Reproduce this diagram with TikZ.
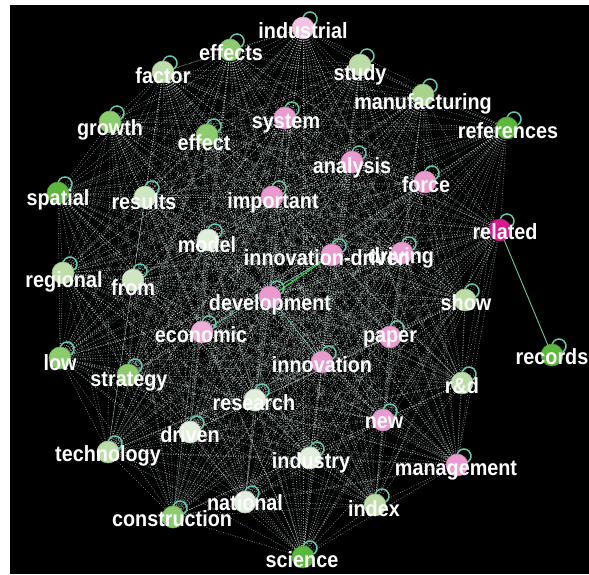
\documentclass[tikz,border=0pt]{standalone}
\usepackage{fontspec}
\setmainfont{Liberation Sans}
\newfontfamily\lblfont{Liberation Sans}[FakeStretch=0.9]
\definecolor{cPink}{HTML}{E99BD0}
\definecolor{cPinkL}{HTML}{F2C4E2}
\definecolor{cPinkE}{HTML}{EDAED8}
\definecolor{cMag}{HTML}{D81B8C}
\definecolor{cGDark}{HTML}{5CB83C}
\definecolor{cGMed}{HTML}{8CCB6E}
\definecolor{cGMedL}{HTML}{A6D48C}
\definecolor{cGLight}{HTML}{BCDDA8}
\definecolor{cGPale2}{HTML}{CFE6C2}
\definecolor{cGPale}{HTML}{E2EEDC}
\definecolor{cLoop}{HTML}{66C8AA}
\definecolor{cEdge}{HTML}{E2F4EE}
\pgfdeclarelayer{bg}
\pgfdeclarelayer{edges}
\pgfdeclarelayer{loops}
\pgfdeclarelayer{front}
\pgfsetlayers{bg,edges,loops,main,front}
\begin{document}
\begin{tikzpicture}[x=1pt,y=-1pt,
  vtx/.style={circle,minimum size=22pt,inner sep=0pt,fill=#1,draw=#1!85!black,line width=0.6pt},
  lbl/.style={text=white,font=\lblfont\bfseries\fontsize{22}{22}\selectfont,inner sep=0pt},
  selfloop/.style={draw=cLoop,line width=1.5pt},
  edge/.style={draw=cEdge,line width=0.55pt,dash pattern=on 0.9pt off 1.6pt,opacity=0.62},
  hedge/.style={draw=cLoop,line width=0.9pt}]
\useasboundingbox (0,0) rectangle (589,574);
\begin{pgfonlayer}{bg}
\fill[white] (0,0) rectangle (589,574);
\fill[black] (10,5) rectangle (589,574);
\end{pgfonlayer}
\foreach \n/\x/\y/\c/\txt/\lx/\ly in {
 industrial/303/28/cPinkL/industrial/303/31,
 effects/230/50/cGMed/effects/231/53,
 factor/163/72/cGLight/factor/163/76,
 study/360/65/cGLight/study/360/75,
 manuf/423/95/cGMedL/manufacturing/423/104,
 references/507/128/cGDark/references/508/131,
 system/285/118/cPink/system/286/124,
 growth/110/122/cGMed/growth/110/130,
 effect/207/135/cGMed/effect/204/143,
 analysis/352/162/cPink/analysis/352/168,
 force/425/182/cPink/force/426/185,
 spatial/58/193/cGDark/spatial/58/200,
 results/145/197/cGPale2/results/144/202,
 important/272/197/cPink/important/273/203,
 related/500/230/cMag/related/505/232,
 model/208/240/cGPale/model/207/245,
 innovd/332/255/cPink/innovation-driven/327/258,
 driving/402/253/cPink/driving/401/258,
 regional/63/273/cGLight/regional/64/282,
 from/133/280/cGPale2/from/133/288,
 development/270/297/cPink/development/270/305,
 show/465/300/cGLight/show/466/303,
 economic/202/332/cPinkE/economic/201/335,
 paper/390/337/cPink/paper/390/339,
 low/60/358/cGMed/low/60/363,
 innovation/322/362/cPink/innovation/322/365,
 strategy/128/375/cGMed/strategy/129/382,
 rd/462/383/cGLight/r\&d/462/386,
 research/255/400/cGPale/research/254/403,
 new/383/420/cPink/new/384/423,
 driven/190/432/cGPale/driven/190/435,
 technology/108/452/cGLight/technology/108/456,
 industry/310/458/cGPale/industry/311/463,
 management/457/465/cPink/management/456/471,
 national/245/502/cGPale/national/245/503,
 index/375/505/cGLight/index/374/509,
 construction/173/517/cGMed/construction/172/519,
 science/303/557/cGDark/science/302/560,
 records/552/355/cGDark/records/552/357}
{
  \node[vtx=\c] (\n) at (\x,\y) {};
  \begin{pgfonlayer}{loops}
  \draw[selfloop] ([shift={(7,-9)}]\n.center) ++(135:7) arc[start angle=135,end angle=420,radius=7];
  \end{pgfonlayer}
  \begin{pgfonlayer}{front}
  \node[lbl] (\n-l) at (\lx,\ly) {\txt};
  \end{pgfonlayer}
}
\def\vlist{industrial,effects,factor,study,manuf,references,system,growth,effect,analysis,force,spatial,results,important,related,model,innovd,driving,regional,from,development,show,economic,paper,low,innovation,strategy,rd,research,new,driven,technology,industry,management,national,index,construction,science}
\begin{pgfonlayer}{edges}
\foreach \a [count=\i] in \vlist {
  \foreach \b [count=\j] in \vlist {
    \ifnum\j>\i \draw[edge] (\a.center) -- (\b.center); \fi
  }
}
\draw[hedge] (related.center) -- (records.center);
\draw[hedge,draw=green!60!cLoop] (development.center) -- (innovd.center);
\draw[hedge,line width=0.6pt] (development.center) -- (innovation.center);
\draw[hedge,line width=0.6pt] (innovd.center) -- (economic.center);
\end{pgfonlayer}
\end{tikzpicture}
\end{document}
